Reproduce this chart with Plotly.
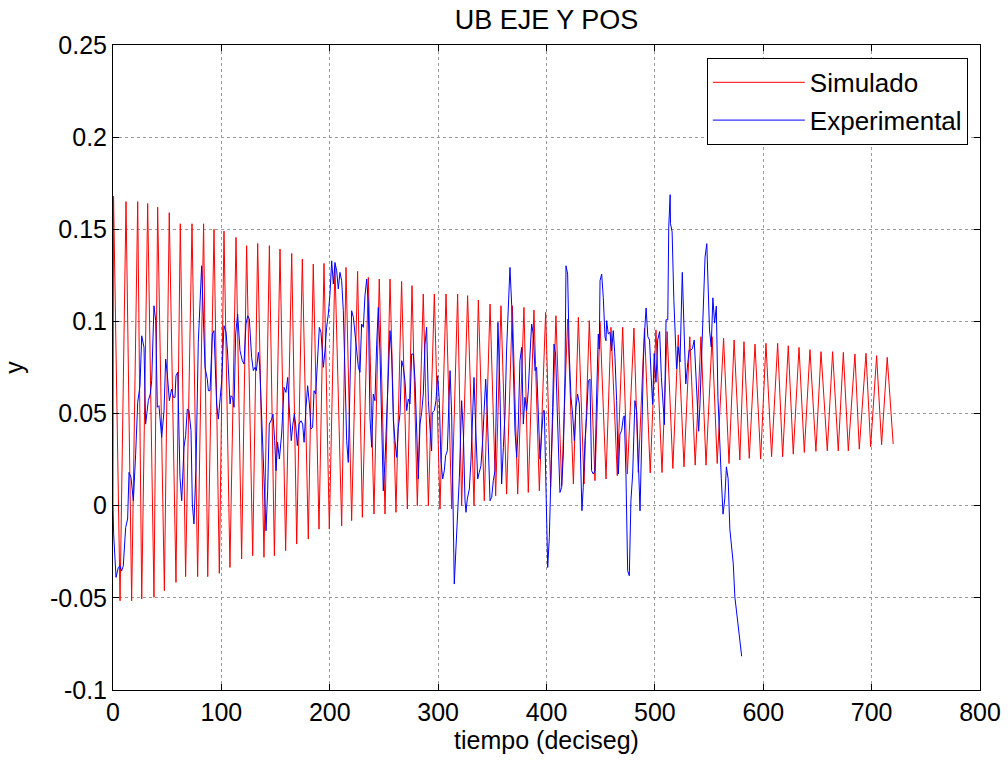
import plotly.graph_objects as go

# ---------------- data ----------------
# Simulado: successive maxima / minima of the oscillation
sim_start_t = [0.0]
sim_start_y = [0.0]
sim_peak_t = [0.5, 12.0, 22.8, 32.0, 41.2, 51.9, 62.1, 72.9, 83.6, 93.2,
              102.4, 113.5, 123.3, 133.5, 144.3, 154.1, 164.9, 174.7, 184.8, 194.7,
              204.8, 215.0, 225.7, 235.6, 245.7, 255.6, 266.3, 275.9, 286.3,
              296.5, 307.3, 318.0, 327.2, 337.1, 347.9, 358.0, 368.5, 379.2, 388.4,
              399.2, 408.7, 419.5, 429.4, 439.5, 449.4, 459.5, 470.3, 480.7,
              490.4, 501.0, 511.3, 521.6, 532.2, 542.5, 552.8, 563.4, 573.1,
              582.2, 592.4, 602.5, 613.3, 623.1, 633.0, 643.1, 653.3, 664.0, 673.9,
              684.6, 694.8, 704.6, 714.4]
sim_peak_y = [0.168, 0.165, 0.165, 0.164, 0.162, 0.159, 0.153, 0.153, 0.153, 0.150,
              0.149, 0.1456, 0.1411, 0.1423, 0.1411, 0.1393, 0.1369, 0.1338, 0.1311, 0.1315,
              0.1302, 0.1293, 0.1272, 0.1239, 0.1230, 0.1230, 0.1217, 0.1194, 0.1149,
              0.1149, 0.1149, 0.1149, 0.1140, 0.1116, 0.1094, 0.1085, 0.1085, 0.1076, 0.1062,
              0.1049, 0.1031, 0.1013, 0.1022, 0.1004, 0.0995, 0.0968, 0.0968, 0.0964,
              0.0963, 0.0954, 0.0945, 0.0927, 0.0917, 0.0917, 0.0917, 0.0908, 0.0899,
              0.0890, 0.0877, 0.0881, 0.0881, 0.0868, 0.0859, 0.0847, 0.0836, 0.0836, 0.0832,
              0.0823, 0.0827, 0.0814, 0.0805]
sim_trough_t = [6.5, 17.2, 26.5, 37.8, 47.4, 58.1, 67.0, 78.1, 87.4, 98.1,
                107.9, 118.7, 128.9, 139.3, 148.9, 159.3, 169.5, 180.2, 190.1, 199.6,
                211.0, 220.2, 230.1, 240.8, 251.0, 261.1, 271.6, 280.8, 291.0,
                301.7, 312.5, 321.7, 333.1, 342.6, 353.1, 363.2, 373.4, 383.2,
                393.4, 403.8, 414.0, 424.8, 434.6, 444.7, 454.9, 465.3, 474.6, 484.7,
                495.7, 506.6, 516.6, 526.9, 537.2, 547.2, 557.5, 568.4, 578.4,
                587.1, 597.6, 607.7, 617.9, 627.7, 637.9, 648.6, 659.1, 669.2, 678.5,
                688.6, 699.1, 709.2, 719.9]
sim_trough_y = [-0.0516, -0.0516, -0.0506, -0.0497, -0.0461, -0.0416, -0.0385, -0.0385, -0.0385, -0.0367,
                -0.0335, -0.0289, -0.0271, -0.0280, -0.0271, -0.0244, -0.0208, -0.0181, -0.0127, -0.0127,
                -0.0109, -0.0081, -0.0063, -0.0045, -0.0045, -0.0036, -0.0018, 0.0, 0.0,
                -0.0018, -0.0018, 0.0, 0.0, 0.0027, 0.0054, 0.0063, 0.0063, 0.0072,
                0.0081, 0.0099, 0.0109, 0.0118, 0.0118, 0.0136, 0.0145, 0.0163, 0.0172, 0.0181,
                0.0178, 0.0180, 0.0202, 0.0211, 0.0220, 0.0220, 0.0229, 0.0229, 0.0248,
                0.0257, 0.0253, 0.0266, 0.0266, 0.0280, 0.0289, 0.0295, 0.0298, 0.0298, 0.0298,
                0.0307, 0.0320, 0.0331, 0.0335]

# Experimental
exp_t = [0, 0.6, 2.8, 4.9, 6.5, 8.0, 9.5, 11.7, 13.5, 14.8, 16.6, 18.8, 20.9, 22.8, 24.9,
         26.5, 28.6, 30.1, 32.6, 34.4, 35.7, 37.8, 39.4, 40.9, 42.4, 44.9, 47.1, 48.6, 50.1,
         52.0, 54.1, 55.7, 57.2, 58.1, 59.7, 61.8, 63.4, 65.5, 67.0, 68.6, 70.1, 72.0, 73.2,
         74.7, 76.6, 78.7, 81.8, 84.9, 87.0, 88.0, 89.5, 91.7, 93.2, 95.6, 97.2,
         98.4, 100.3, 102.4, 104.3, 105.8, 108.0, 108.9, 110.4, 111.7, 113.2, 115.0, 117.2,
         119.3, 120.9, 122.7, 124.3, 125.8, 127.9, 129.5, 131.0, 132.3, 134.1, 135.3, 136.6,
         138.1, 139.6, 141.2, 142.7, 144.2, 146.4, 147.6, 149.2, 150.4, 151.9, 153.5, 155.6,
         157.8, 159.6, 161.2, 162.4, 164.5, 165.8, 167.3, 168.5, 170.1, 171.6, 173.5, 175.0,
         176.3, 178.1, 179.6, 181.2, 182.7, 184.2, 185.5, 187.0, 188.8, 190.4, 191.9, 194.1,
         195.6, 197.1, 198.7, 200.2, 201.8, 203.3, 204.8, 206.4, 207.9, 209.4, 211.0, 212.5,
         214.1, 215.6, 217.1, 218.7, 220.2, 221.8, 223.3, 224.8, 226.4, 227.9, 229.4, 231.0,
         232.5, 234.1, 235.6, 237.1, 238.7, 240.2, 241.7, 243.3, 244.8, 246.4, 247.9, 249.4,
         251.0, 252.5, 254.1, 255.6, 257.1, 258.7, 260.2, 261.7, 263.3, 264.8, 266.4, 267.9,
         269.4, 271.0, 272.5, 274.0, 275.6, 277.1, 278.7, 280.2, 281.7, 283.3, 284.8, 286.3,
         287.9, 289.4, 291.0, 292.5,
         294.0, 294.6, 296.5, 298.0, 299.6, 301.1, 302.6, 304.2, 305.7, 306.9, 308.5, 310.0,
         311.0, 312.5, 314.0, 314.9, 316.2, 317.7, 319.6, 321.7, 323.3, 324.8, 325.7, 326.9,
         328.8, 330.3, 331.5, 333.1, 334.0, 335.5, 336.5, 338.0, 339.5, 341.1, 342.6, 343.9,
         345.4, 346.9, 347.9, 349.4, 350.9, 352.5, 354.0, 355.2, 357.1, 358.6, 360.2, 361.7,
         363.2, 364.8, 366.3, 367.9, 369.4, 370.9, 372.5, 374.0, 375.5, 377.1, 378.6, 380.1,
         381.7, 383.2, 384.8, 386.3, 387.8, 389.4, 390.9,
         392.5, 394.0, 395.5, 397.1, 398.0, 399.5, 401.1, 402.6, 404.1, 405.7, 406.9, 408.4,
         410.0, 411.2, 412.4, 414.0, 415.5, 417.1, 418.0, 419.5, 421.0, 422.6, 424.1, 425.7,
         427.2, 428.7, 430.3, 431.8, 432.7, 433.9, 435.5, 437.0, 438.6, 440.1, 441.6, 443.2,
         444.7, 446.3, 447.8, 448.7, 449.4, 450.9, 452.4, 454.0, 454.9, 455.5, 457.0, 458.6,
         460.1, 461.6, 463.2, 464.7, 466.3, 467.8, 469.3, 470.9, 471.8, 473.3, 474.9, 476.4,
         477.9, 479.5, 481.6,
         483.2, 484.8, 486.3, 487.9, 489.4, 491.0, 491.9, 493.5, 495.1, 496.6, 497.9, 499.4,
         501.0, 502.6, 504.4, 506.0, 507.5, 508.8, 510.3, 511.9, 512.8, 514.1, 514.4, 515.9,
         517.5, 519.1, 520.0, 521.6, 523.2, 525.3, 526.9, 528.5, 530.0, 531.6, 533.1, 534.7,
         536.3, 537.9, 539.4, 540.4, 541.6, 543.2, 544.8, 546.3, 547.9, 548.8, 550.4, 552.0,
         553.5, 555.1, 556.7, 558.2, 559.8, 561.3, 562.9, 564.5, 566.0, 567.6, 569.2, 570.7,
         572.3, 573.8, 575.4, 577.0, 578.5, 580.1]
exp_y = [0.000, -0.0154, -0.0389, -0.0335, -0.0326, -0.0353, -0.0326, -0.0118, -0.0072, 0.0181,
         0.0154, 0.0027, 0.0280, 0.0561, 0.0651, 0.0922, 0.0859, 0.0443, 0.0570, 0.0606, 0.0678,
         0.1085, 0.1004, 0.0534, 0.0543, 0.0371, 0.0516, 0.0796, 0.0714, 0.0570, 0.0633, 0.0588,
         0.0588, 0.0705, 0.0724, 0.0154, 0.0027, 0.0317, 0.0380, 0.0525, 0.0516, 0.0407, 0.0009,
         -0.0099, 0.0208, 0.0886, 0.1302, 0.0751, 0.0687, 0.0624, 0.0624, 0.0932, 0.0950, 0.0552,
         0.0470,
         0.0550, 0.0678, 0.0977, 0.0941, 0.0823, 0.0552, 0.0597, 0.0588, 0.0534, 0.0932, 0.1040,
         0.0841, 0.0787, 0.0769, 0.0986, 0.1031, 0.1013, 0.0805, 0.0733, 0.0751, 0.0733, 0.0832,
         0.0769, 0.0570, 0.0353, 0.0027, -0.0136, 0.0081, 0.0443, 0.0470, 0.0497, 0.0353, 0.0190,
         0.0344, 0.0253, 0.0389, 0.0642, 0.0615, 0.0696, 0.0552, 0.0353, 0.0434, 0.0497, 0.0443,
         0.0326, 0.0443, 0.0461, 0.0443, 0.0344, 0.0534, 0.0651, 0.0552, 0.0416, 0.0425, 0.0624,
         0.0606, 0.0769, 0.0968, 0.0941, 0.0751,
         0.0840, 0.0968, 0.1040, 0.1149, 0.1329, 0.1203, 0.1320, 0.1275, 0.1176, 0.1266, 0.1221,
         0.1058, 0.0714, 0.0353, 0.0235, 0.0714, 0.1058, 0.1022, 0.0932, 0.0823, 0.0751, 0.0724,
         0.0986, 0.0968, 0.1140, 0.1230, 0.1094, 0.0479, 0.0317, 0.0606, 0.0570, 0.0877, 0.1076,
         0.0823, 0.0371, 0.0081, 0.0244, 0.0479, 0.0751, 0.0950, 0.0823, 0.0461, 0.0353, 0.0262,
         0.0425, 0.0497, 0.0787, 0.0751, 0.0678, 0.0516, 0.0579, 0.0552, 0.0823, 0.0823, 0.0678,
         0.0335, 0.0145, 0.0443, 0.0506, 0.0606, 0.0877, 0.0968, 0.0570, 0.0420,
         0.0298, 0.0506, 0.0516, 0.0570, 0.0705, 0.0570, 0.0244, 0.0145, 0.0190, 0.0271, 0.0298,
         0.0570, 0.0733, 0.0497, -0.0009, -0.0425, -0.0262, -0.0045, 0.0154, 0.0570, 0.0389,
         0.0027, -0.0036, 0.0036, 0.0090, 0.0244, 0.0443, 0.0696, 0.0534, 0.0244, 0.0145, 0.0181,
         0.0217, 0.0353, 0.0516, 0.0687, 0.0497, 0.0244, 0.0027, 0.0045, 0.0136, 0.0190, 0.0570,
         0.0995, 0.0606, 0.0118, 0.0317, 0.0497, 0.0850, 0.1094, 0.1293, 0.1085, 0.0769, 0.0407,
         0.0262, 0.0443, 0.0787, 0.0859, 0.0443, 0.0588, 0.0516, 0.0624, 0.0823, 0.0986, 0.0932,
         0.0733, 0.0751,
         0.0461, 0.0253, 0.0389, 0.0516, 0.0516, 0.0172, -0.0335, -0.0172, 0.0118, 0.0534, 0.0877,
         0.0823, 0.0497, 0.0262, 0.0072, 0.0099, 0.0280, 0.0714, 0.1302, 0.1257, 0.0823, 0.0588,
         0.0497, 0.0353, 0.0534, 0.0606, 0.0552, 0.0172, -0.0027, 0.0099, 0.0353, 0.0479, 0.0678,
         0.0687, 0.0190, 0.0172, 0.0190, 0.0606, 0.0932, 0.0850, 0.1221, 0.1257, 0.1130, 0.0914,
         0.0895, 0.1004, 0.0932, 0.0941, 0.0841, 0.0950, 0.0805, 0.0570, 0.0172, 0.0389, 0.0407,
         0.0479, 0.0488, 0.0172, -0.0353, -0.0380, 0.0027, 0.0172, 0.0570,
         0.0514, 0.0220, -0.0028, 0.0367, 0.0789, 0.0991, 0.1073, 0.0917, 0.0899, 0.0697, 0.0550,
         0.0826, 0.0670, 0.0899, 0.0945, 0.0697, 0.0550, 0.0440, 0.1009, 0.1009, 0.1514, 0.1688,
         0.1532, 0.1486, 0.1119, 0.0899, 0.0743, 0.0862, 0.0780, 0.1266, 0.0917, 0.0661, 0.0752,
         0.0844, 0.0844, 0.0853, 0.0899, 0.0697, 0.0587, 0.0404, 0.0550, 0.0807, 0.1009, 0.1349,
         0.1422, 0.1193, 0.0954, 0.0862, 0.1128, 0.0991, 0.1083, 0.0587, 0.0321, 0.0147, -0.0046,
         0.0037, 0.0211, 0.0147, -0.0128, -0.0239, -0.0312, -0.0495, -0.0578, -0.0642, -0.0706,
         -0.0817]

x_ticks = [0, 100, 200, 300, 400, 500, 600, 700, 800]
x_tick_labels = ["0", "100", "200", "300", "400", "500", "600", "700", "800"]
y_ticks = [-0.1, -0.05, 0, 0.05, 0.1, 0.15, 0.2, 0.25]
y_tick_labels = ["-0.1", "-0.05", "0", "0.05", "0.1", "0.15", "0.2", "0.25"]

# interleave extrema of the simulated signal
sim_t = list(sim_start_t)
sim_y = list(sim_start_y)
for pt, py, tt, ty in zip(sim_peak_t, sim_peak_y, sim_trough_t, sim_trough_y):
    sim_t += [pt, tt]
    sim_y += [py, ty]

fig = go.Figure()
fig.add_trace(go.Scatter(x=sim_t, y=sim_y, mode="lines", name="Simulado",
                         legendgroup="a",
                         line=dict(color="#ff0000", width=1)))
fig.add_trace(go.Scatter(x=exp_t, y=exp_y, mode="lines", name="Experimental",
                         legendgroup="b",
                         line=dict(color="#0000ff", width=1)))

FS = 25
axis_common = dict(showline=True, linecolor="black", linewidth=1, mirror="ticks",
                   ticks="inside", ticklen=6, tickcolor="black", showgrid=True,
                   gridcolor="#9a9a9a", griddash="dot", gridwidth=1, zeroline=False,
                   automargin=False,
                   tickfont=dict(size=FS, color="black"))

fig.update_layout(
    width=1008, height=770,
    margin=dict(l=113, r=28, t=45, b=80),
    paper_bgcolor="white", plot_bgcolor="white",
    font=dict(family="Liberation Sans, Arial, sans-serif", size=FS, color="black"),
    title=dict(text="UB EJE Y POS", x=0.5, xref="paper", xanchor="center",
               y=1 - 20 / 770, yref="container", yanchor="middle",
               font=dict(size=27, color="black")),
    showlegend=True,
    legend=dict(x=0.986, y=0.98, xanchor="right", yanchor="top",
                bgcolor="white", bordercolor="black", borderwidth=1,
                font=dict(size=26, color="black"), itemwidth=92,
                tracegroupgap=1),
)
fig.update_xaxes(range=[0, 800], tickvals=x_ticks, ticktext=x_tick_labels,
                 title=dict(text="tiempo (deciseg)", font=dict(size=FS), standoff=6),
                 **axis_common)
fig.update_yaxes(range=[-0.1, 0.25], tickvals=y_ticks, ticktext=y_tick_labels,
                 title=dict(text="y", font=dict(size=FS), standoff=28),
                 **axis_common)

fig.write_html("out.html")
